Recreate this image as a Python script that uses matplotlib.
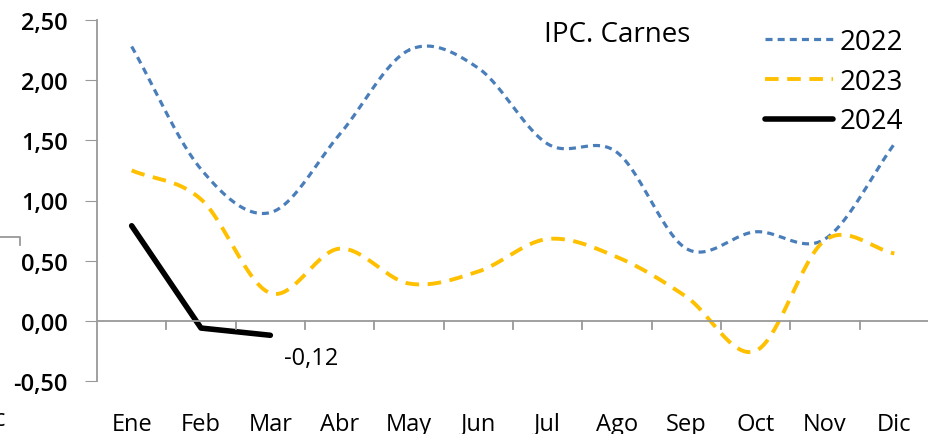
import numpy as np
import matplotlib.pyplot as plt
from matplotlib.lines import Line2D

plt.rcParams['font.family'] = ['Open Sans', 'DejaVu Sans']

meses = ["Ene", "Feb", "Mar", "Abr", "May", "Jun", "Jul", "Ago", "Sep", "Oct", "Nov", "Dic"]
ipc_2022 = [2.28, 1.26, 0.90, 1.55, 2.25, 2.10, 1.47, 1.40, 0.60, 0.74, 0.68, 1.47]
ipc_2023 = [1.25, 1.01, 0.23, 0.60, 0.31, 0.41, 0.68, 0.53, 0.20, -0.25, 0.67, 0.56]
ipc_2024 = [0.79, -0.06, -0.12]


def smooth(y, n=30):
    # excel-like smoothing (catmull-rom through the points)
    y = np.asarray(y, float)
    x = np.arange(len(y), dtype=float)
    px = np.concatenate([[2 * x[0] - x[1]], x, [2 * x[-1] - x[-2]]])
    py = np.concatenate([[2 * y[0] - y[1]], y, [2 * y[-1] - y[-2]]])
    xs, ys = [], []
    t = np.linspace(0, 1, n)
    for i in range(1, len(px) - 2):
        p0, p1, p2, p3 = py[i - 1], py[i], py[i + 1], py[i + 2]
        q0, q1, q2, q3 = px[i - 1], px[i], px[i + 1], px[i + 2]
        f = lambda a, b, c, d: 0.5 * ((2 * b) + (-a + c) * t + (2 * a - 5 * b + 4 * c - d) * t ** 2
                                      + (-a + 3 * b - 3 * c + d) * t ** 3)
        xs.append(f(q0, q1, q2, q3))
        ys.append(f(p0, p1, p2, p3))
    return np.concatenate(xs), np.concatenate(ys)


fig = plt.figure(figsize=(9.29, 4.35), dpi=100)
ax = fig.add_axes([97 / 929, 53 / 435, 832 / 929, 361 / 435])

x22, y22 = smooth(ipc_2022)
x23, y23 = smooth(ipc_2023)
ax.plot(x22, y22, color="#4a7ebb", lw=2.3, ls=(0, (2.2, 1.6)), label="2022")
ax.plot(x23, y23, color="#ffc000", lw=2.8, ls=(0, (3.5, 2.2)), label="2023")
ax.plot(range(len(ipc_2024)), ipc_2024, color="black", lw=4, solid_capstyle="round", label="2024")

ax.text(2.2, -0.305, "-0,12", fontsize=17, ha="left", va="center")

ax.set_xlim(-0.5, 11.5)
ax.set_ylim(-0.5, 2.5)
ax.set_yticks(np.arange(-0.5, 2.51, 0.5))
ax.set_yticklabels([f"{v:.2f}".replace(".", ",") for v in np.arange(-0.5, 2.51, 0.5)],
                   fontsize=17, fontweight="semibold")
ax.tick_params(axis="y", length=9, color="#999999", pad=12)

ax.set_xticks(range(12))
ax.set_xticklabels(meses, fontsize=17)
ax.tick_params(axis="x", length=0, pad=22)

for s in ["top", "right", "bottom"]:
    ax.spines[s].set_visible(False)
ax.spines["left"].set_color("#999999")
ax.spines["left"].set_linewidth(1.3)

ax.axhline(0, color="#999999", lw=1.3)
for k in range(11):
    ax.plot([k + 0.5, k + 0.5], [0, -0.065], color="#999999", lw=1.3)

fig.text(617 / 929, 1 - 35 / 435, "IPC. Carnes", fontsize=20, ha="center", va="center")
ax.legend(loc="upper left", bbox_to_anchor=(765 / 929, 1 - 29 / 435), bbox_transform=fig.transFigure,
          frameon=False, fontsize=20, handlelength=2.45, labelspacing=0.42, handletextpad=0.25,
          borderpad=0, borderaxespad=0)

# cut-off pieces of the neighbouring chart
fig.add_artist(Line2D([0, 20 / 929, 20 / 929], [1 - 238 / 435, 1 - 238 / 435, 1 - 246 / 435],
                      color="#999999", lw=1.3, transform=fig.transFigure))
fig.text(-6 / 929, 1 - 420 / 435, "c", fontsize=17, va="center", ha="left")

fig.savefig("out.png", dpi=100)
